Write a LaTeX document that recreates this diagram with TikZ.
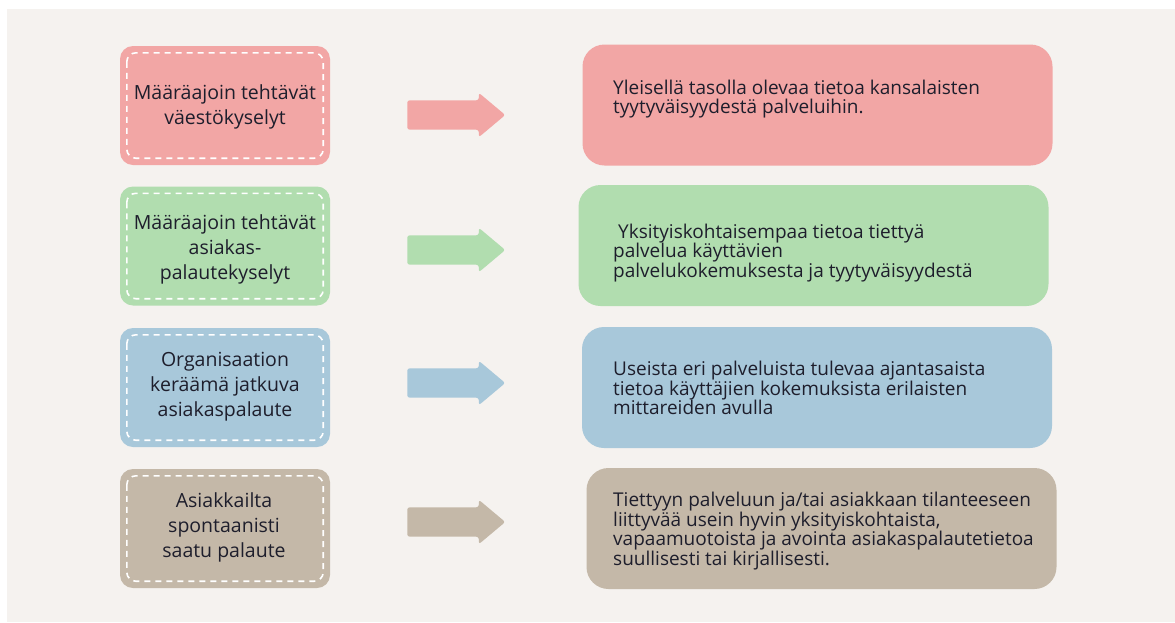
\documentclass[tikz,border=0pt]{standalone}
\usepackage{fontspec}
\setmainfont{Open Sans}
\usetikzlibrary{shapes.arrows}

\definecolor{bgcol}{HTML}{F5F2EF}
\definecolor{redc}{HTML}{F2A6A5}
\definecolor{greenc}{HTML}{B1DDAF}
\definecolor{bluec}{HTML}{A8C8DA}
\definecolor{brownc}{HTML}{C4B8A8}
\definecolor{inkc}{HTML}{1E1E2C}

\tikzset{
  leftbox/.style={rectangle, rounded corners=13pt, minimum width=210pt,
    minimum height=119pt, inner sep=0pt},
  rightbox/.style={rectangle, rounded corners=22pt, minimum width=470pt,
    minimum height=121pt, inner sep=0pt},
  lefttext/.style={align=center, inner sep=0pt, text=inkc,
    font=\fontsize{19.5}{25}\selectfont},
  righttext/.style={align=left, anchor=west, inner sep=0pt, text=inkc,
    font=\fontsize{19}{19.7}\selectfont},
  stitch/.style={draw=white, line width=1.6pt, dash pattern=on 6pt off 5pt,
    rounded corners=9pt},
  blockarrow/.style={single arrow, minimum height=98pt, inner xsep=0pt,
    inner ysep=14.5pt, single arrow head extend=7.5pt,
    single arrow tip angle=80, rounded corners=2.5pt}
}

\begin{document}
\begin{tikzpicture}[x=1pt, y=-1pt]
  % page and background panel
  \useasboundingbox (0,0) rectangle (1175,622);
  \fill[white] (0,0) rectangle (1175,622);
  \fill[bgcol] (7,9) rectangle (1175,622);

  % left column: feedback sources
  \node[leftbox, fill=redc]   (L1) at (225,105.5) {};
  \node[leftbox, fill=greenc] (L2) at (225,246)   {};
  \node[leftbox, fill=bluec]  (L3) at (225,387.5) {};
  \node[leftbox, fill=brownc] (L4) at (225,528.5) {};
  \foreach \n in {L1,L2,L3,L4}
    \draw[stitch] ([shift={(7,7)}]\n.north west) rectangle ([shift={(-7,-7)}]\n.south east);

  \node[lefttext] (T1) at (225,107) {Määräajoin tehtävät\\väestökyselyt};
  \node[lefttext] (T2) at (225,249) {Määräajoin tehtävät\\asiakas-\\palautekyselyt};
  \node[lefttext] (T3) at (225,387) {Organisaation\\keräämä jatkuva\\asiakaspalaute};
  \node[lefttext] (T4) at (224,527) {Asiakkailta\\spontaanisti\\saatu palaute};

  % right column: what each source tells
  \node[rightbox, fill=redc]   (R1) at (817.5,105) {};
  \node[rightbox, fill=greenc] (R2) at (813.5,245.5) {};
  \node[rightbox, fill=bluec]  (R3) at (817,387.5) {};
  \node[rightbox, fill=brownc] (R4) at (821.5,528.5) {};

  \node[righttext] (S1) at (613,99) {Yleisellä tasolla olevaa tietoa kansalaisten\\tyytyväisyydestä palveluihin.};
  \node[righttext] (S2) at (613,253) {\hspace{5pt}Yksityiskohtaisempaa tietoa tiettyä\\palvelua käyttävien\\palvelukokemuksesta ja tyytyväisyydestä};
  \node[righttext] (S3) at (613,388) {Useista eri palveluista tulevaa ajantasaista\\tietoa käyttäjien kokemuksista erilaisten\\mittareiden avulla};
  \node[righttext] (S4) at (613,531) {Tiettyyn palveluun ja/tai asiakkaan tilanteeseen\\liittyvää usein hyvin yksityiskohtaista,\\vapaamuotoista ja avointa asiakaspalautetietoa\\suullisesti tai kirjallisesti.};

  % block arrows between the columns
  \node[blockarrow, fill=redc]   (A1) at (447.5,115) {};
  \node[blockarrow, fill=greenc] (A2) at (447.5,250) {};
  \node[blockarrow, fill=bluec]  (A3) at (447.5,383) {};
  \node[blockarrow, fill=brownc] (A4) at (447.5,522) {};
\end{tikzpicture}
\end{document}
